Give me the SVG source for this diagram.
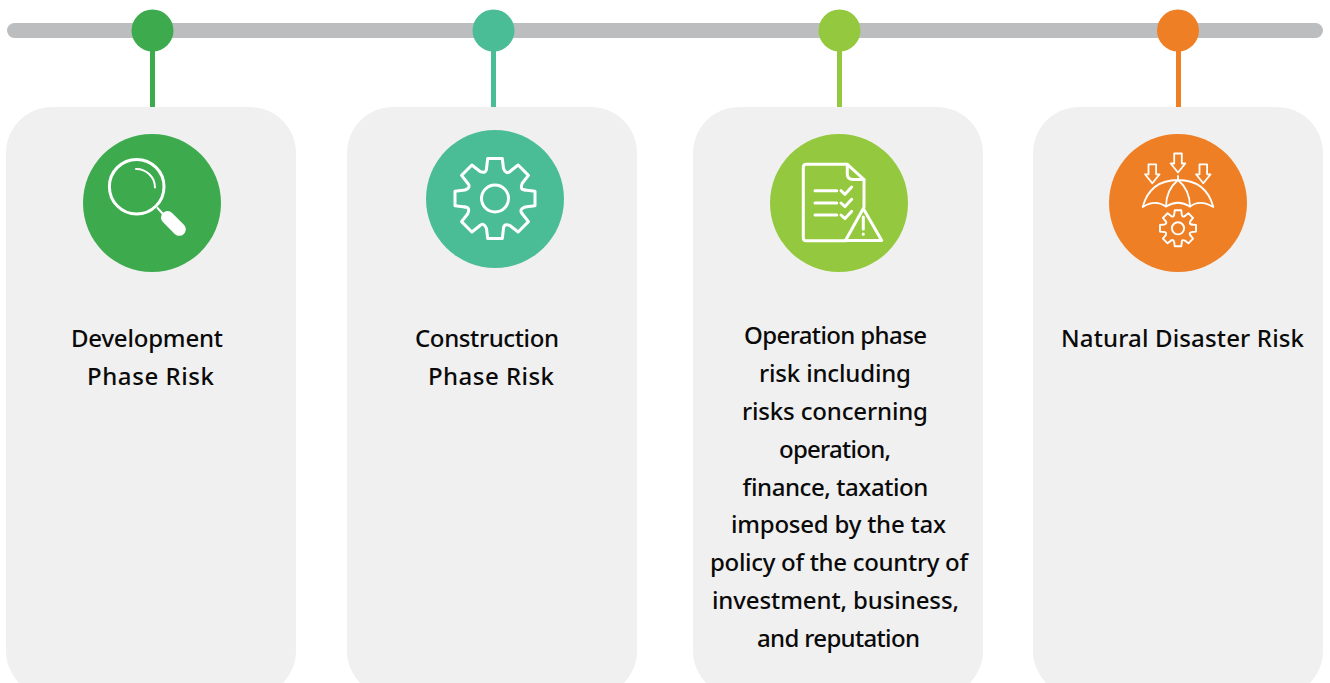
<svg xmlns="http://www.w3.org/2000/svg" xmlns:xlink="http://www.w3.org/1999/xlink" width="1330" height="683" viewBox="0 0 1330 683">
<style>
.card{fill:#f0f0f0}
.t{font-family:"Noto Sans","Open Sans",sans-serif;font-size:24px;font-weight:500;fill:#0a0a0a}
.ic{fill:none;stroke:#fff;stroke-width:3;stroke-linecap:round;stroke-linejoin:round}
.ic2{fill:none;stroke:#fff;stroke-width:1.8;stroke-linecap:round;stroke-linejoin:round}
.g1{fill:#3dab4d}.g2{fill:#4bbd96}.g3{fill:#94c93f}.g4{fill:#ef7f24}
</style>
<defs>
<path id="tooth" d="M-8.5-30L-7.3-40H7.3L8.5-30Q11-23.5 15.2-27.2"/>
<g id="gear">
<use xlink:href="#tooth" href="#tooth"/>
<use xlink:href="#tooth" href="#tooth" transform="rotate(45)"/>
<use xlink:href="#tooth" href="#tooth" transform="rotate(90)"/>
<use xlink:href="#tooth" href="#tooth" transform="rotate(135)"/>
<use xlink:href="#tooth" href="#tooth" transform="rotate(180)"/>
<use xlink:href="#tooth" href="#tooth" transform="rotate(225)"/>
<use xlink:href="#tooth" href="#tooth" transform="rotate(270)"/>
<use xlink:href="#tooth" href="#tooth" transform="rotate(315)"/>
<circle r="13.5"/>
</g>
<path id="arrow" d="M-3.8 0H3.8V10H7.3L0 19-7.3 10H-3.8Z"/>
</defs>
<rect width="1330" height="683" fill="#fff"/>
<g id="connectors">
<rect x="7" y="23" width="1316" height="15" rx="7.5" fill="#bcbdbf"/>
<rect class="g1" x="150" y="45" width="5" height="62"/>
<rect class="g2" x="491" y="45" width="5" height="62"/>
<rect class="g3" x="837" y="45" width="5" height="62"/>
<rect class="g4" x="1176" y="45" width="5" height="62"/>
</g>
<g id="node-development">
<circle class="g1" cx="152.5" cy="30.5" r="21"/>
<rect class="card" x="6" y="107" width="290" height="590" rx="46"/>
<circle class="g1" cx="152" cy="203" r="69"/>
<g class="ic">
<circle cx="136.7" cy="186.7" r="27.3"/>
<path d="M136 169A18.7 18.7 0 0 1 155 187.5" stroke-width="2"/>
<path d="M157.5 208L163.5 214.5" stroke-width="2"/>
<path d="M167.5 217.5L179.3 229.3" stroke-width="13"/>
</g>
<text class="t" x="71" y="347" textLength="152">Development</text>
<text class="t" x="87" y="385" textLength="127">Phase Risk</text>
</g>
<g id="node-construction">
<circle class="g2" cx="493.5" cy="30.5" r="21"/>
<rect class="card" x="347" y="107" width="290" height="590" rx="46"/>
<circle class="g2" cx="495" cy="199" r="69"/>
<use class="ic" xlink:href="#gear" href="#gear" transform="translate(495 198.5)"/>
<text class="t" x="415" y="347" textLength="144">Construction</text>
<text class="t" x="428" y="385" textLength="126">Phase Risk</text>
</g>
<g id="node-operation">
<circle class="g3" cx="839.5" cy="30.5" r="21"/>
<rect class="card" x="693" y="107" width="290" height="590" rx="46"/>
<circle class="g3" cx="839" cy="203" r="69"/>
<g class="ic">
<path d="M846 240.7H806.3Q803.3 240.7 803.3 237.7V167.3Q803.3 164.3 806.3 164.3H847.3L864 179.5V207"/>
<path d="M847.3 164.3V174Q847.3 179.5 853 179.5H864"/>
<path d="M815 190.7H836.7M815 203H836.7M815 215H836.7"/>
<path d="M841 190.7L845 194.3 851.7 187M841 203L845 206.6 851.7 199.3M841 215L845 218.6 851.7 211.3"/>
<path d="M863.3 208.5L881.7 240.5H845.5Z"/>
<path d="M863.3 217V229M863.3 234V234.2"/>
</g>
<text class="t" x="744" y="344" textLength="183">Operation phase</text>
<text class="t" x="759" y="382" textLength="152">risk including</text>
<text class="t" x="742" y="420" textLength="186">risks concerning</text>
<text class="t" x="779" y="458" textLength="112">operation,</text>
<text class="t" x="742" y="496" textLength="186">finance, taxation</text>
<text class="t" x="731" y="533" textLength="215">imposed by the tax</text>
<text class="t" x="710" y="571" textLength="258">policy of the country of</text>
<text class="t" x="712" y="609" textLength="247">investment, business,</text>
<text class="t" x="757" y="647" textLength="163">and reputation</text>
</g>
<g id="node-natural">
<circle class="g4" cx="1178" cy="30.5" r="21"/>
<rect class="card" x="1033" y="107" width="290" height="590" rx="46"/>
<circle class="g4" cx="1178" cy="203" r="69"/>
<g class="ic2">
<use xlink:href="#arrow" href="#arrow" transform="translate(1178 153.5)"/>
<use xlink:href="#arrow" href="#arrow" transform="translate(1152.3 164.3)"/>
<use xlink:href="#arrow" href="#arrow" transform="translate(1203.3 164.3)"/>
<path d="M1178 176V180M1142.7 207Q1150 180 1178 180T1213.3 207Q1200 199 1190 206.5 1178 199 1166 206.5 1155 199 1142.7 207Z"/>
<path d="M1178 180Q1166 190 1166 206.5M1178 180Q1190 190 1190 206.5"/>
</g>
<use class="ic2" style="stroke-width:4.2" xlink:href="#gear" href="#gear" transform="translate(1178 228.3) scale(.45)"/>
<text class="t" x="1061" y="347" textLength="243">Natural Disaster Risk</text>
</g>
</svg>
